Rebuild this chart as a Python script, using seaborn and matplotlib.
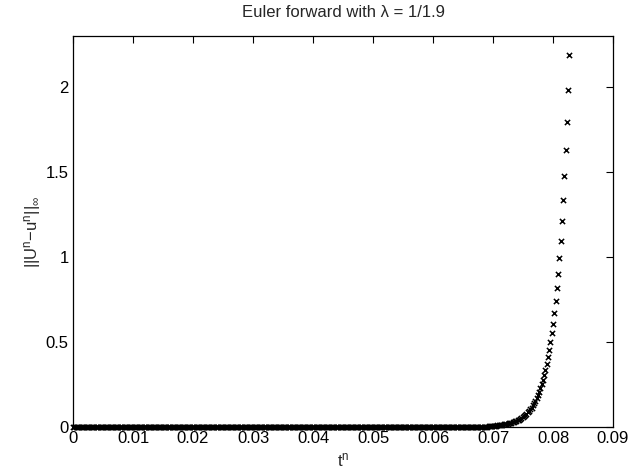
import numpy as np
import matplotlib
matplotlib.use("Agg")
import matplotlib.pyplot as plt
import seaborn as sns

# ---- data ----
dt = 0.0004 / 1.9          # time step k = lambda * h^2, h = 1/50
n_steps = 393
# error values of the last steps, from the final step backwards
err_tail_rev = [2.189, 1.982, 1.796, 1.629, 1.475, 1.336, 1.210, 1.096, 0.992, 0.900,
                0.815, 0.741, 0.670, 0.607, 0.550, 0.497, 0.452, 0.411, 0.369, 0.336,
                0.304, 0.276, 0.250, 0.226, 0.205, 0.186, 0.168, 0.152, 0.138, 0.125,
                0.113, 0.103, 0.093, 0.084, 0.076, 0.069, 0.063, 0.057, 0.051, 0.047,
                0.042, 0.038, 0.035, 0.031, 0.028, 0.026, 0.023, 0.021, 0.019, 0.017,
                0.016, 0.014, 0.013, 0.012, 0.011, 0.010, 0.009, 0.008, 0.007, 0.006,
                0.005, 0.005, 0.004, 0.004, 0.003]
x_ticks = [0, 0.01, 0.02, 0.03, 0.04, 0.05, 0.06, 0.07, 0.08, 0.09]
x_tick_labels = ["0", "0.01", "0.02", "0.03", "0.04", "0.05", "0.06", "0.07", "0.08", "0.09"]
y_ticks = [0, 0.5, 1, 1.5, 2]
y_tick_labels = ["0", "0.5", "1", "1.5", "2"]

t = np.arange(n_steps + 1) * dt
err_tail = err_tail_rev[::-1]
err = np.concatenate([np.zeros(len(t) - len(err_tail)), err_tail])

sns.set_theme(style="white")
plt.rcParams["font.family"] = ["Liberation Sans", "DejaVu Sans"]
plt.rcParams["mathtext.fontset"] = "custom"
plt.rcParams["mathtext.rm"] = "Liberation Sans"
plt.rcParams["mathtext.it"] = "Liberation Sans"
plt.rcParams["mathtext.bf"] = "Liberation Sans:bold"

fig = plt.figure(figsize=(6.3, 4.68), dpi=100)
ax = fig.add_axes([73 / 630, 1 - 426.7 / 468, (613 - 73) / 630, (426.7 - 36) / 468])

sns.scatterplot(x=t, y=err, marker="x", color="black", s=14, linewidth=1.1,
                ax=ax, clip_on=False, legend=False)

ax.set_xlim(0, 0.09)
ax.set_ylim(0, 2.3)
ax.set_xticks(x_ticks)
ax.set_xticklabels(x_tick_labels)
ax.set_yticks(y_ticks)
ax.set_yticklabels(y_tick_labels)
ax.tick_params(direction="in", length=5, width=0.8, top=True, right=True,
               labelsize=12, colors="black", pad=3)
for s in ax.spines.values():
    s.set_color("black")
    s.set_linewidth(0.9)
    s.set_visible(True)

ax.set_title("Euler forward with λ = 1/1.9", fontsize=12, pad=14)
ax.set_xlabel(r"t$^{\mathrm{n}}$", fontsize=12, labelpad=4)
ax.set_ylabel(r"||U$^{\mathrm{n}}$−u$^{\mathrm{n}}$||$_{\infty}$", fontsize=12, labelpad=2)

fig.savefig("out.png", dpi=100, facecolor="white")
